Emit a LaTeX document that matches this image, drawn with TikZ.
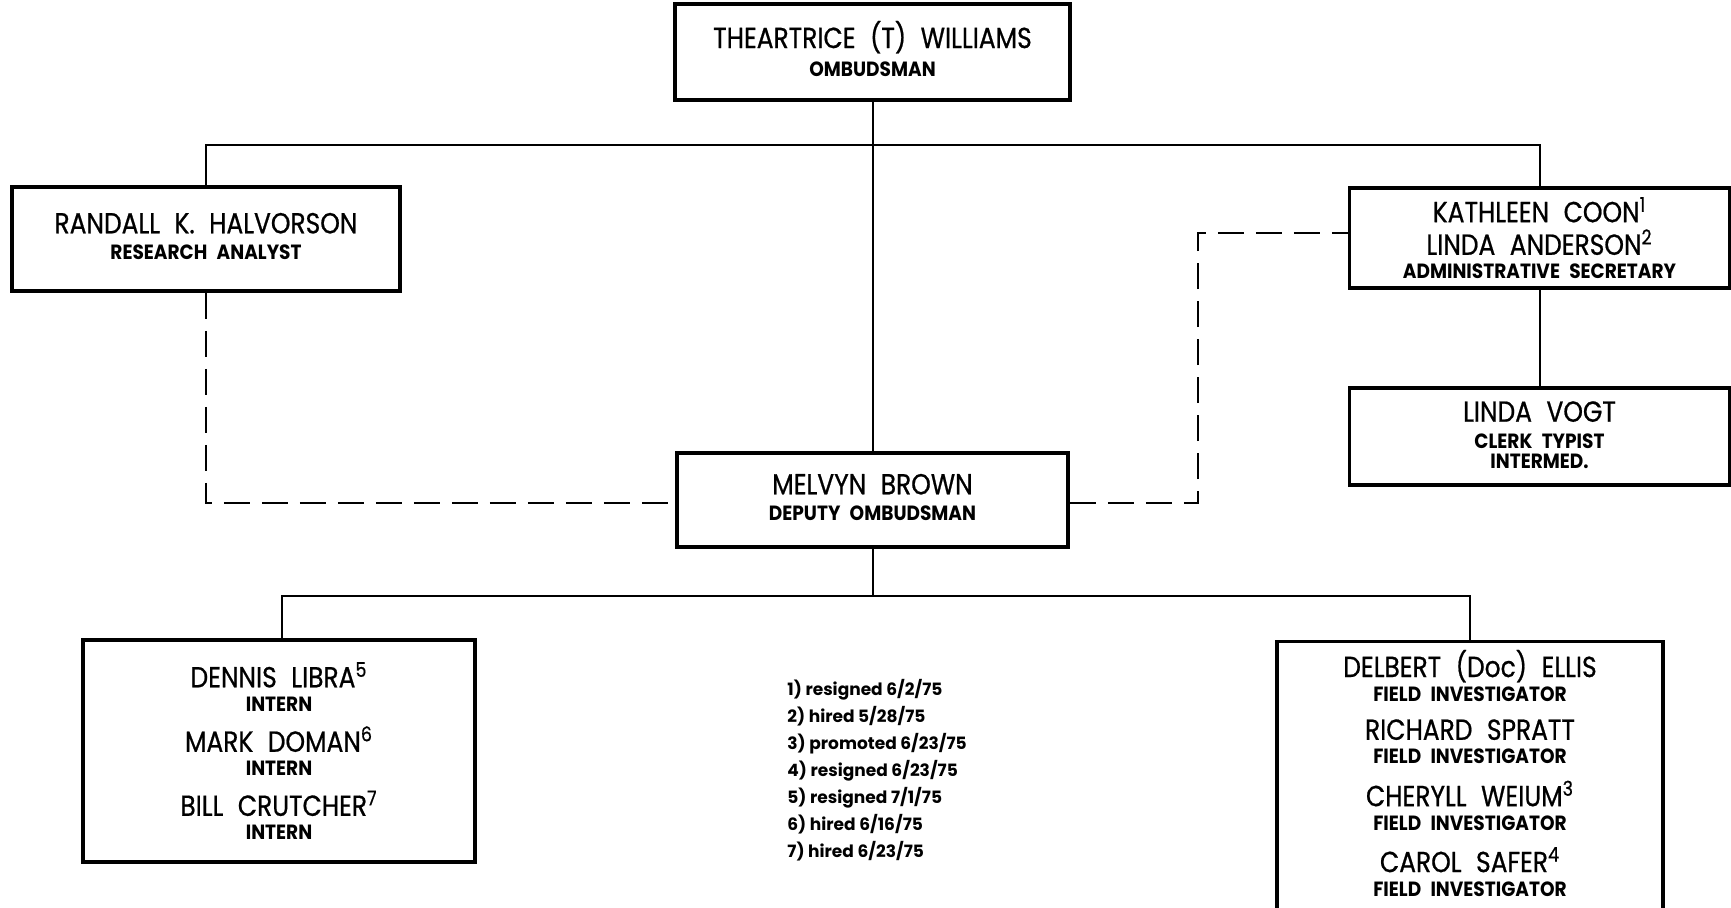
\documentclass[tikz,border=0pt]{standalone}
\usepackage{fontspec}
\setmainfont{Poppins}
\newfontfamily\namefont{Poppins}[FakeStretch=0.86, FakeBold=0.7]
\newfontfamily\titlefont{Poppins}[FakeStretch=0.9]
\usetikzlibrary{positioning}

\newcommand{\nm}{\namefont\fontsize{14.5}{12.5}\selectfont\spaceskip=0.5em\relax}
\newcommand{\tl}{\titlefont\bfseries\fontsize{10.3}{12.5}\selectfont\spaceskip=0.45em\relax}

\begin{document}
\begin{tikzpicture}[
    x=0.5pt, y=-0.5pt,
    box/.style={rectangle, draw=black, line width=1.8pt,
                align=center, inner sep=0pt},
    link/.style={line width=1pt},
    dlink/.style={line width=1pt, dash pattern=on 13pt off 6pt}
]
\useasboundingbox (0,0) rectangle (1731,907);

\node[box, minimum width=197.5pt, minimum height=48pt, text depth=3.3pt] (om) at (872.5,52)
    {\nm THEARTRICE (T) WILLIAMS\\[2.2pt] \tl OMBUDSMAN};
\node[box, minimum width=194pt, minimum height=52pt, text depth=2.8pt] (ra) at (206,239)
    {\nm RANDALL K. HALVORSON\\[1.1pt] \tl RESEARCH ANALYST};
\node[box, minimum width=190pt, minimum height=50pt] (sec) at (1539.5,238)
    {\nm KATHLEEN COON\textsuperscript{1}\\[2.5pt]
     \nm LINDA ANDERSON\textsuperscript{2}\\ \tl ADMINISTRATIVE SECRETARY};
\node[box, minimum width=190pt, minimum height=48.5pt, text depth=1.5pt] (typ) at (1539.5,436.5)
    {\nm LINDA VOGT\\[1.5pt] \tl CLERK TYPIST\\[-2pt] \tl INTERMED.};
\node[box, minimum width=195.5pt, minimum height=47pt, text depth=2.8pt] (dep) at (872.5,500)
    {\nm MELVYN BROWN\\[1.1pt] \tl DEPUTY OMBUDSMAN};
\node[box, minimum width=196pt, minimum height=111pt] (intr) at (279,751)
    {\nm DENNIS LIBRA\textsuperscript{5}\\ \tl INTERN\\[6.5pt]
     \nm MARK DOMAN\textsuperscript{6}\\ \tl INTERN\\[6.5pt]
     \nm BILL CRUTCHER\textsuperscript{7}\\ \tl INTERN};
\node[box, minimum width=193pt, minimum height=137pt, text depth=5.5pt] (fld) at (1470,778.5)
    {\nm DELBERT (Doc) ELLIS\\ \tl FIELD INVESTIGATOR\\[7.4pt]
     \nm RICHARD SPRATT\\ \tl FIELD INVESTIGATOR\\[7.4pt]
     \nm CHERYLL WEIUM\textsuperscript{3}\\ \tl FIELD INVESTIGATOR\\[7.4pt]
     \nm CAROL SAFER\textsuperscript{4}\\ \tl FIELD INVESTIGATOR};
\node[anchor=north west, align=left, inner sep=0pt,
      font=\fontsize{8.5}{13.5}\selectfont\bfseries] (notes) at (787,679)
    {1) resigned 6/2/75\\ 2) hired 5/28/75\\ 3) promoted 6/23/75\\
     4) resigned 6/23/75\\ 5) resigned 7/1/75\\ 6) hired 6/16/75\\
     7) hired 6/23/75};

\coordinate (bus) at (872.5,145);
\coordinate (jog) at (1198,370);
\coordinate (bus2) at (872.5,596);

\draw[link] (om) -- (dep);
\draw[link] (ra.north) |- (bus) -| (sec.north);
\draw[link] (sec) -- (typ);
\draw[dlink] (ra.south) |- ([yshift=-1.5pt]dep.west);
\draw[dlink] ([yshift=-1.5pt]dep.east) -| (jog) |- ([yshift=2.5pt]sec.west);
\draw[link] (dep) -- (bus2);
\draw[link] ([xshift=1.5pt]intr.north) |- (bus2) -| (fld.north);
\end{tikzpicture}
\end{document}
